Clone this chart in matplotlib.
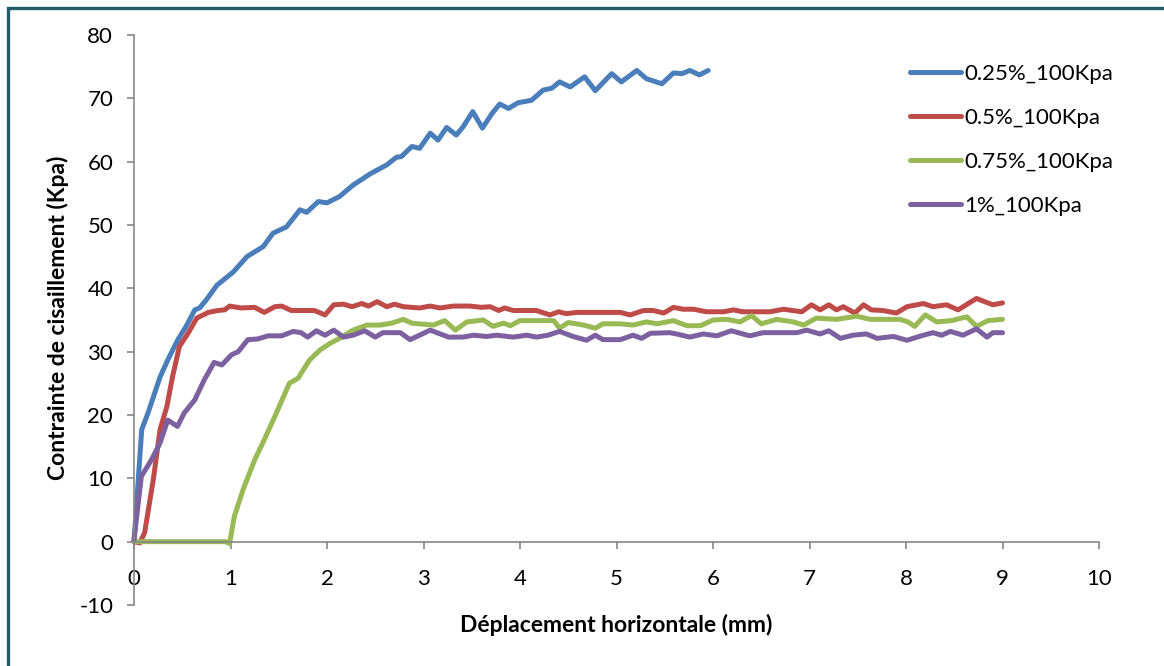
import matplotlib

matplotlib.use('Agg')
import matplotlib.pyplot as plt
from matplotlib.patches import Rectangle

# data
x_025 = [0, 0.08, 0.145, 0.27, 0.35, 0.455, 0.54, 0.63, 0.68, 0.75, 0.86, 1.03, 1.17, 1.34, 1.44,
         1.58, 1.72, 1.79, 1.91, 2.0, 2.13, 2.27, 2.45, 2.62, 2.72, 2.77, 2.88, 2.96, 3.07, 3.15,
         3.24, 3.34, 3.41, 3.51, 3.61, 3.71, 3.79, 3.88, 3.98, 4.12, 4.24, 4.33, 4.41, 4.52, 4.67,
         4.78, 4.95, 5.05, 5.21, 5.31, 5.47, 5.59, 5.68, 5.76, 5.86, 5.95]
y_025 = [0, 17.7, 20.3, 26.0, 28.7, 31.9, 34.0, 36.6, 36.9, 38.2, 40.5, 42.6, 45.0, 46.6, 48.7,
         49.7, 52.4, 52.0, 53.7, 53.5, 54.5, 56.3, 58.1, 59.5, 60.7, 60.8, 62.4, 62.1, 64.5, 63.4,
         65.4, 64.2, 65.5, 67.9, 65.3, 67.6, 69.1, 68.4, 69.3, 69.7, 71.3, 71.6, 72.6, 71.8, 73.4,
         71.2, 73.9, 72.6, 74.4, 73.1, 72.3, 74.0, 73.9, 74.4, 73.7, 74.4]

x_05 = [0, 0.06, 0.11, 0.2, 0.27, 0.34, 0.40, 0.47, 0.56, 0.65, 0.77, 0.87, 0.94, 0.99, 1.11,
        1.25, 1.35, 1.46, 1.53, 1.63, 1.87, 1.98, 2.07, 2.17, 2.26, 2.36, 2.43, 2.52, 2.62, 2.70,
        2.79, 2.96, 3.07, 3.17, 3.31, 3.48, 3.60, 3.69, 3.78, 3.84, 3.93, 4.17, 4.31, 4.40, 4.48,
        4.59, 5.04, 5.14, 5.28, 5.38, 5.49, 5.59, 5.69, 5.80, 5.93, 6.11, 6.21, 6.31, 6.59, 6.73,
        6.92, 7.02, 7.11, 7.20, 7.28, 7.35, 7.47, 7.56, 7.64, 7.76, 7.90, 8.01, 8.18, 8.28, 8.42,
        8.54, 8.73, 8.90, 9.0]
y_05 = [0, -0.2, 1.4, 9.8, 17.7, 21.3, 26.1, 30.8, 32.9, 35.3, 36.2, 36.5, 36.6, 37.2, 36.9,
        37.0, 36.2, 37.1, 37.2, 36.5, 36.5, 35.8, 37.4, 37.5, 37.1, 37.6, 37.2, 37.9, 37.1, 37.5,
        37.1, 36.9, 37.2, 36.9, 37.2, 37.2, 37.0, 37.1, 36.5, 36.9, 36.5, 36.5, 35.8, 36.3, 36.0,
        36.2, 36.2, 35.8, 36.5, 36.5, 36.1, 37.0, 36.7, 36.7, 36.3, 36.3, 36.6, 36.3, 36.3, 36.7,
        36.3, 37.4, 36.6, 37.4, 36.6, 37.1, 36.1, 37.4, 36.6, 36.5, 36.1, 37.1, 37.6, 37.1, 37.4,
        36.6, 38.4, 37.4, 37.7]

x_075 = [0, 0.95, 0.99, 1.04, 1.13, 1.25, 1.35, 1.46, 1.61, 1.70, 1.82, 1.93, 2.03, 2.13, 2.27,
         2.41, 2.55, 2.67, 2.79, 2.88, 3.10, 3.22, 3.33, 3.45, 3.62, 3.72, 3.83, 3.90, 4.0, 4.35,
         4.41, 4.50, 4.66, 4.78, 4.86, 5.04, 5.17, 5.31, 5.42, 5.59, 5.73, 5.87, 6.0, 6.14, 6.28,
         6.40, 6.50, 6.66, 6.83, 6.94, 7.07, 7.28, 7.49, 7.63, 7.94, 8.02, 8.09, 8.20, 8.32, 8.47,
         8.63, 8.73, 8.85, 9.0]
y_075 = [0, 0, -0.3, 4.0, 8.2, 12.9, 16.1, 19.8, 25.0, 25.8, 28.7, 30.3, 31.3, 32.1, 33.4,
         34.2, 34.2, 34.5, 35.1, 34.5, 34.2, 34.9, 33.4, 34.7, 35.0, 34.0, 34.5, 34.1, 34.9, 34.9,
         33.7, 34.6, 34.2, 33.7, 34.4, 34.4, 34.2, 34.7, 34.4, 34.9, 34.1, 34.1, 35.0, 35.1, 34.7,
         35.7, 34.4, 35.1, 34.7, 34.2, 35.3, 35.1, 35.6, 35.1, 35.1, 34.7, 34.0, 35.8, 34.7, 34.9,
         35.5, 34.0, 34.9, 35.1]

x_1 = [0, 0.076, 0.18, 0.27, 0.35, 0.45, 0.52, 0.63, 0.73, 0.83, 0.91, 1.01, 1.08, 1.18, 1.28,
       1.39, 1.53, 1.65, 1.73, 1.80, 1.89, 1.98, 2.07, 2.17, 2.27, 2.39, 2.50, 2.58, 2.76, 2.86,
       2.96, 3.07, 3.26, 3.41, 3.52, 3.65, 3.76, 3.93, 4.07, 4.17, 4.29, 4.41, 4.55, 4.69, 4.78,
       4.86, 5.04, 5.17, 5.26, 5.35, 5.55, 5.62, 5.76, 5.90, 6.04, 6.19, 6.38, 6.52, 6.87, 6.97,
       7.11, 7.20, 7.32, 7.45, 7.59, 7.70, 7.87, 8.01, 8.18, 8.28, 8.37, 8.46, 8.59, 8.73, 8.84,
       8.90, 9.0]
y_1 = [0.3, 10.3, 12.9, 15.6, 19.2, 18.2, 20.3, 22.4, 25.6, 28.3, 27.9, 29.5, 30.0, 31.9, 32.0,
       32.5, 32.5, 33.2, 33.0, 32.3, 33.3, 32.6, 33.4, 32.3, 32.6, 33.3, 32.3, 33.0, 33.0, 31.9,
       32.6, 33.4, 32.3, 32.3, 32.6, 32.4, 32.6, 32.3, 32.6, 32.3, 32.6, 33.2, 32.4, 31.8, 32.6,
       31.9, 31.9, 32.6, 32.1, 32.9, 33.0, 32.8, 32.3, 32.8, 32.5, 33.3, 32.5, 33.0, 33.0, 33.4,
       32.8, 33.3, 32.1, 32.6, 32.8, 32.1, 32.4, 31.8, 32.6, 33.0, 32.6, 33.2, 32.6, 33.6, 32.3,
       33.0, 33.0]

labels = ["0.25%_100Kpa", "0.5%_100Kpa", "0.75%_100Kpa", "1%_100Kpa"]
colors = ["#4A7EBB", "#BE4B48", "#98B954", "#7D60A0"]
x_ticks = list(range(0, 11))
y_ticks = list(range(-10, 81, 10))

plt.rcParams['font.family'] = ['Lato', 'DejaVu Sans']
plt.rcParams['axes.unicode_minus'] = False
axis_grey = "#868686"

fig = plt.figure(figsize=(11.64, 6.66), dpi=100)
ax = fig.add_axes([134 / 1164, 1 - 605 / 666, (1099 - 134) / 1164, (605 - 35) / 666])

series = [(x_025, y_025), (x_05, y_05), (x_075, y_075), (x_1, y_1)]
for (xs, ys), lab, col in zip(series, labels, colors):
    ax.plot(xs, ys, color=col, lw=3.6, label=lab, solid_joinstyle='round',
            solid_capstyle='round', clip_on=False)

ax.set_xlim(0, 10)
ax.set_ylim(-10, 80)
ax.set_xticks(x_ticks)
ax.set_yticks(y_ticks)

for s in ['top', 'right']:
    ax.spines[s].set_visible(False)
ax.spines['bottom'].set_position(('data', 0))
for s in ['left', 'bottom']:
    ax.spines[s].set_color(axis_grey)
    ax.spines[s].set_linewidth(1.2)

ax.tick_params(axis='y', direction='out', length=5, width=1.2, color=axis_grey,
               labelsize=16, pad=10)
ax.tick_params(axis='x', direction='out', length=5, width=1.2, color=axis_grey,
               labelsize=16, pad=15)

fig.text(58 / 1164, 1 - 318 / 666, "Contrainte de cisaillement (Kpa)", rotation=90,
         ha='center', va='center', fontsize=16.5, fontweight='bold')
fig.text(616 / 1164, 1 - 625 / 666, "Déplacement horizontale (mm)",
         ha='center', va='center', fontsize=16.5, fontweight='bold')

fig.legend(loc='upper left', bbox_to_anchor=(901 / 1164, 1 - 55 / 666), frameon=False,
           fontsize=16, handlelength=2.3, handletextpad=0.15, labelspacing=1.08,
           borderaxespad=0)

# outer frame (only top and left edges visible in the reference)
fig.patches.append(Rectangle((8 / 1164, -0.05), 1.2, 1 - 8 / 666 + 0.05,
                             transform=fig.transFigure, fill=False,
                             edgecolor="#245B6B", lw=2.4, clip_on=False))

fig.savefig("out.png", dpi=100)
